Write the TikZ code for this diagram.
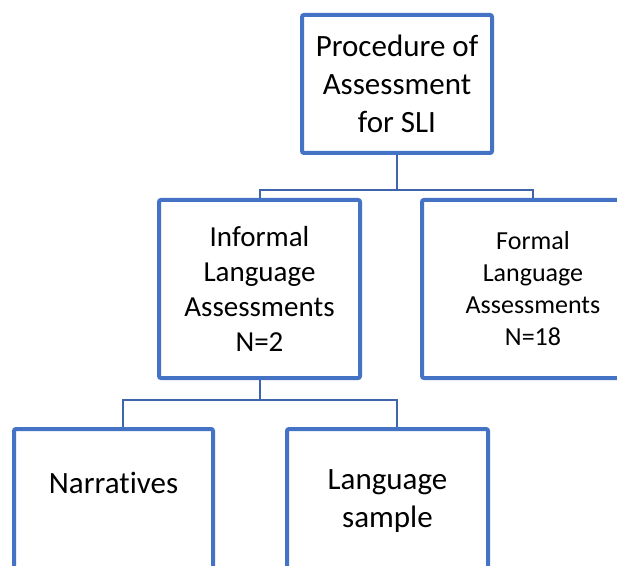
\documentclass[tikz,border=0pt]{standalone}
\usepackage{fontspec}
\setmainfont[Ligatures=NoCommon]{Carlito}
\usepackage{tikz}
\usetikzlibrary{positioning, calc}

\definecolor{boxblue}{RGB}{68,114,196}
\definecolor{connblue}{RGB}{62,101,172}

\begin{document}
\begin{tikzpicture}[
    x=0.75pt, y=-0.75pt,
    box/.style={rectangle, draw=boxblue, line width=3pt, rounded corners=1.5pt, fill=white, align=center, inner sep=0pt},
    conn/.style={draw=connblue, line width=1.5pt},
    big/.style={font=\fontsize{23.25}{28.5}\selectfont},
    mid/.style={font=\fontsize{21.75}{26.25}\selectfont},
    small/.style={font=\fontsize{19.5}{24}\selectfont},
]
\useasboundingbox (0,0) rectangle (617,566);
\clip (0,0) rectangle (617,566);

% Top level
\node[box, big, minimum width=190*0.75pt, minimum height=138*0.75pt] (proc) at (397,84) {Procedure of\\Assessment\\for SLI};

% Second level
\node[box, mid, minimum width=201*0.75pt, minimum height=178*0.75pt] (inf) at (259.5,289) {Informal\\Language\\Assessments\\N=2};
\node[box, small, minimum width=222*0.75pt, minimum height=178*0.75pt] (form) at (533,289) {Formal\\Language\\Assessments\\N=18};

% Third level
\node[box, minimum width=199*0.75pt, minimum height=180*0.75pt] (narr) at (113.5,519) {};
\node[box, minimum width=201*0.75pt, minimum height=180*0.75pt] (samp) at (387.5,519) {};
\node[big] (narrtxt) at (113.5,483) {Narratives};
\node[big, align=center] (samptxt) at (387.5,501) {Language\\sample};

% Lines
\draw[conn] (proc.south) -- ++(0,35) -| (inf.north);
\draw[conn] (proc.south) -- ++(0,35) -| (form.north);
\draw[conn] (inf.south) -- ++(0,20) -| ($(narr.north)+(9,0)$);
\draw[conn] (inf.south) -- ++(0,20) -| ($(samp.north)+(9,0)$);

\end{tikzpicture}
\end{document}
